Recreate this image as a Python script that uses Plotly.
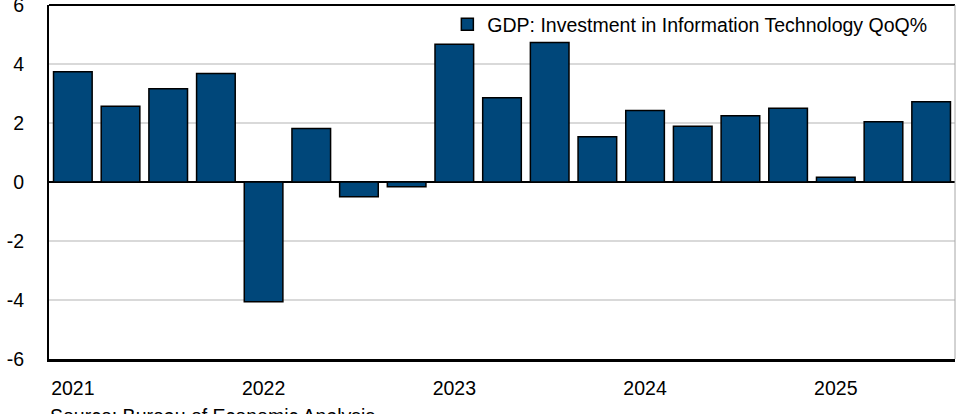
import plotly.graph_objects as go

# Quarterly IT investment growth, 2021Q1 - 2025Q3
quarters = [f"{y}Q{q}" for y in range(2021, 2026) for q in range(1, 5)][:19]
qoq_pct = [3.74, 2.57, 3.16, 3.68, -4.06, 1.81, -0.50, -0.16, 4.67, 2.86,
           4.73, 1.53, 2.42, 1.89, 2.25, 2.50, 0.16, 2.04, 2.72]
year_ticks = ["2021Q1", "2022Q1", "2023Q1", "2024Q1", "2025Q1"]
year_labels = ["2021", "2022", "2023", "2024", "2025"]
y_ticks = [-6, -4, -2, 0, 2, 4, 6]
y_labels = [str(v) for v in y_ticks]

series_name = "GDP: Investment in Information Technology QoQ%"
source_text = "Source: Bureau of Economic Analysis"

FONT = "Liberation Sans Narrow, Arial Narrow, Liberation Sans, Arial, sans-serif"
FS = 19.5
BAR = "#00477a"

fig = go.Figure()
fig.add_trace(go.Bar(
    x=quarters, y=qoq_pct, name=series_name,
    marker=dict(color=BAR, line=dict(color="#000000", width=1.5)),
    showlegend=True,
))

fig.update_layout(
    width=957, height=414,
    margin=dict(l=49, r=2, t=5, b=55),
    paper_bgcolor="white", plot_bgcolor="white",
    font=dict(family=FONT, size=FS, color="#000000"),
    bargap=0.19,
    legend=dict(
        x=0.975, xanchor="right", y=1.0, yanchor="top",
        bgcolor="rgba(0,0,0,0)", borderwidth=0,
        font=dict(family=FONT, size=FS, color="#000000"),
        itemwidth=30,
    ),
    xaxis=dict(
        type="category", categoryorder="array", categoryarray=quarters,
        range=[-0.5, len(quarters) - 0.5], automargin=False,
        tickmode="array", tickvals=year_ticks, ticktext=year_labels,
        showgrid=False, ticks="", showline=True, linecolor="#000000", linewidth=3,
        ticklabelstandoff=10,
        tickfont=dict(family=FONT, size=FS),
    ),
    yaxis=dict(
        range=[-6, 6], tickmode="array", tickvals=y_ticks, ticktext=y_labels,
        automargin=False,
        showgrid=True, gridcolor="#d9d9d9", gridwidth=1.5,
        zeroline=True, zerolinecolor="#000000", zerolinewidth=2,
        showline=True, linecolor="#000000", linewidth=2,
        ticks="", ticklabelstandoff=19, ticklabeloverflow="allow",
        tickfont=dict(family=FONT, size=FS),
    ),
    annotations=[dict(
        text=source_text, xref="paper", yref="paper",
        x=0.0, y=-0.125, xanchor="left", yanchor="top", showarrow=False,
        xshift=-1, font=dict(family=FONT, size=FS, color="#000000"),
    )],
    shapes=[
        dict(type="line", xref="paper", yref="paper", x0=0, x1=1, y0=1, y1=1,
             line=dict(color="#000000", width=2)),
        dict(type="line", xref="paper", yref="paper", x0=1, x1=1, y0=0, y1=1,
             line=dict(color="#a6a6a6", width=1)),
    ],
)

fig.write_html("out.html")
